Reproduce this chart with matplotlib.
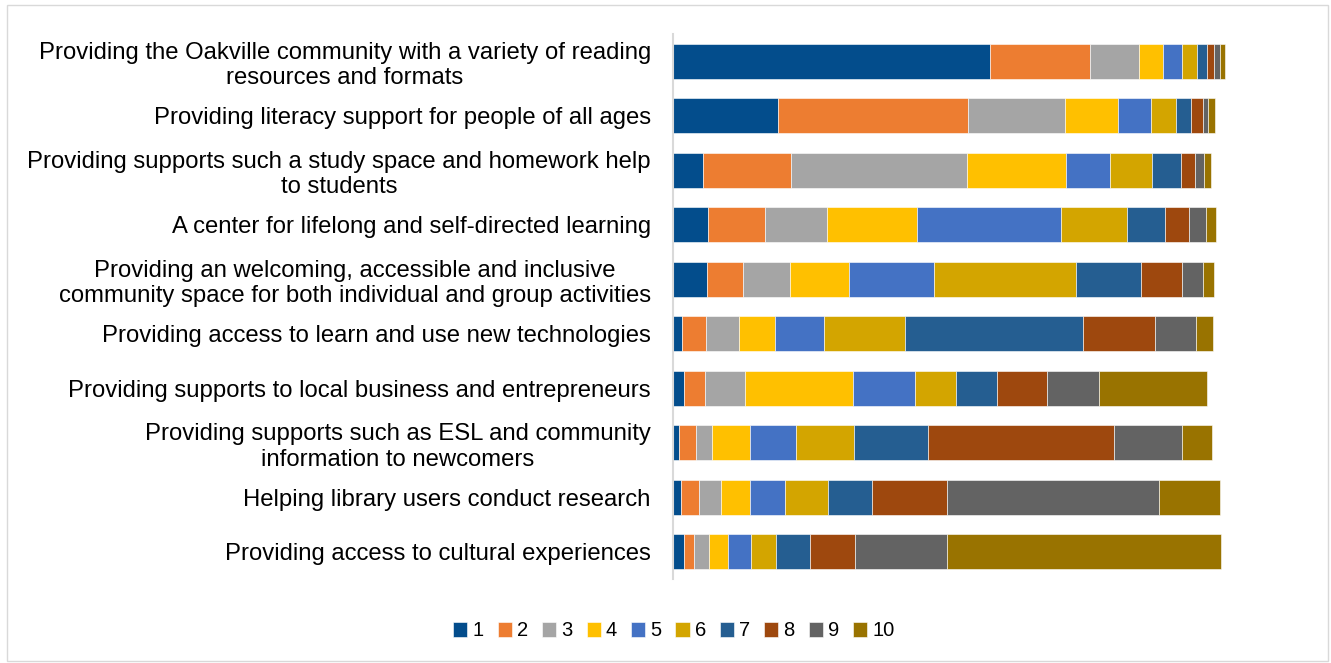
import matplotlib.pyplot as plt
import numpy as np

plt.rcParams['font.family'] = ['Liberation Sans', 'DejaVu Sans']

categories = [
    "Providing the Oakville community with a variety of reading\nresources and formats",
    "Providing literacy support for people of all ages",
    "Providing supports such a study space and homework help\nto students",
    "A center for lifelong and self-directed learning",
    "Providing an welcoming, accessible and inclusive\ncommunity space for both individual and group activities",
    "Providing access to learn and use new technologies",
    "Providing supports to local business and entrepreneurs",
    "Providing supports such as ESL and community\ninformation to newcomers",
    "Helping library users conduct research",
    "Providing access to cultural experiences",
]

ranks = ["1", "2", "3", "4", "5", "6", "7", "8", "9", "10"]

# number of responses per rank, one list per statement
counts = [
    [321, 101, 50, 24, 19, 16, 10, 7, 6, 5],
    [106, 193, 98, 54, 33, 25, 16, 12, 5, 7],
    [30, 90, 178, 100, 45, 42, 29, 15, 9, 7],
    [35, 58, 63, 91, 146, 67, 38, 25, 17, 10],
    [34, 37, 47, 60, 86, 144, 66, 41, 22, 11],
    [9, 24, 34, 36, 50, 82, 180, 73, 42, 17],
    [11, 21, 41, 109, 63, 42, 41, 51, 52, 110],
    [6, 17, 17, 38, 47, 58, 75, 189, 69, 30],
    [8, 18, 23, 29, 35, 44, 45, 76, 214, 62],
    [11, 10, 15, 20, 23, 25, 35, 45, 93, 278],
]

colors = ["#034d8c", "#ed7d31", "#a5a5a5", "#ffc000", "#4472c4",
          "#d3a500", "#255e91", "#9e480e", "#636363", "#997300"]

W, H = 1331, 663
fig = plt.figure(figsize=(W / 100, H / 100), dpi=100)

# thin frame around the chart area
fig.patches.append(plt.Rectangle((7 / W, 2 / H), 1 - 10 / W, 1 - 7 / H,
                                 transform=fig.transFigure, fill=False,
                                 edgecolor="#d9d9d9", linewidth=1))

ax = fig.add_axes([673 / W, 1 - 579 / H, (1300 - 673) / W, (579 - 34) / H])

data = np.array(counts)
y = np.arange(len(categories))
left = np.zeros(len(categories))
for i, r in enumerate(ranks):
    ax.barh(y, data[:, i], left=left, height=0.64, color=colors[i],
            edgecolor="white", linewidth=0.4, label=r)
    left += data[:, i]

ax.set_xlim(0, 635)
ax.set_ylim(len(categories) - 0.5, -0.5)
ax.set_yticks(y)
ax.set_yticklabels(categories, fontsize=17.2, multialignment="center",
                   linespacing=1.22)
ax.tick_params(axis="y", length=0, pad=16)
ax.set_xticks([])
for s in ["top", "right", "bottom"]:
    ax.spines[s].set_visible(False)
ax.spines["left"].set_color("#d9d9d9")
ax.spines["left"].set_linewidth(1.5)

fig.legend(loc="center", bbox_to_anchor=(674 / W, 1 - 631 / H), ncol=10,
           frameon=False, fontsize=14.5, handlelength=0.7, handleheight=0.7,
           handletextpad=0.25, columnspacing=0.7)

fig.savefig("out.png", dpi=100)
